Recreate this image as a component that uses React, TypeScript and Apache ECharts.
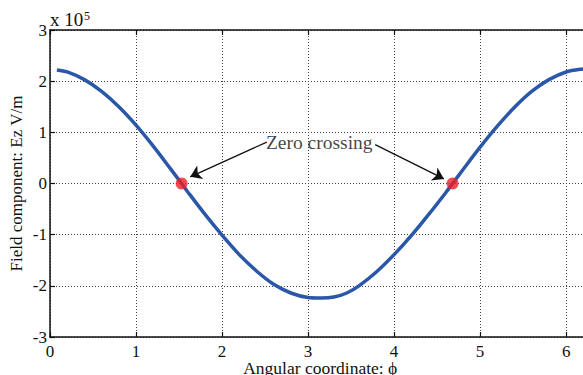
import React, { useEffect, useRef } from "react";
import * as echarts from "echarts";

// Angular coordinate (rad) and field component Ez (in units of 1e5 V/m)
const phiValues = [0.08, 0.2, 0.4, 0.6, 0.8, 1.0, 1.2, 1.4, 1.53, 1.6, 1.8, 2.0, 2.2, 2.4, 2.6, 2.8, 3.0, 3.15, 3.3, 3.45, 3.6, 3.8, 4.0, 4.2, 4.4, 4.6, 4.68, 4.8, 5.0, 5.2, 5.4, 5.6, 5.8, 6.0, 6.2, 6.2832];
const ezValues = [2.22, 2.18, 2.03, 1.8, 1.5, 1.14, 0.73, 0.29, 0, -0.16, -0.6, -1.01, -1.39, -1.71, -1.97, -2.14, -2.23, -2.24, -2.22, -2.14, -1.99, -1.72, -1.39, -1.02, -0.61, -0.18, 0, 0.27, 0.71, 1.12, 1.49, 1.8, 2.03, 2.18, 2.24, 2.25];

const zeroCrossPhi = [1.53, 4.68];
const zeroCrossEz = [0, 0];

// annotation: text anchor and arrow start/end (data coordinates)
const annotationText = "Zero crossing";
const annotationAt = [3.13, 0.8];
const arrowStarts = [[2.52, 0.81], [3.78, 0.76]];
const arrowEnds = [[1.63, 0.13], [4.58, 0.09]];

const xTicks = { min: 0, max: 2 * Math.PI, interval: 1 };
const yTicks = { min: -3, max: 3, interval: 1 };

const FONT = "'Liberation Serif', 'Times New Roman', serif";

export default function App() {
  const ref = useRef<HTMLDivElement>(null);
  useEffect(() => {
    if (!ref.current) return;
    const chart = echarts.init(ref.current, null, { renderer: "svg" });
    const gridLine = { show: true, lineStyle: { color: "#444", type: [1, 2], width: 1 } };
    const axisLine = { show: true, onZero: false, lineStyle: { color: "#111", width: 1.5 } };
    const axisTick = { show: true, inside: true, length: 5, lineStyle: { color: "#111", width: 1.2 } };
    chart.setOption({
      animation: false,
      backgroundColor: "#fff",
      grid: { left: 50, top: 30, bottom: 38, right: -7.5, containLabel: false, outerBoundsMode: "none" },
      xAxis: [
        {
          type: "value",
          position: "bottom",
          ...xTicks,
          axisLine,
          axisTick,
          splitLine: gridLine,
          axisLabel: { color: "#111", fontSize: 17, fontFamily: FONT, margin: 6, showMaxLabel: false },
          name: "Angular coordinate: \u03d5",
          nameLocation: "middle",
          nameGap: 22,
          nameMoveOverlap: false,
          nameTextStyle: { color: "#111", fontSize: 17.5, fontFamily: FONT, verticalAlign: "top" },
        },
        {
          type: "value",
          position: "top",
          ...xTicks,
          axisLine,
          axisTick,
          splitLine: { show: false },
          axisLabel: { show: false },
        },
      ],
      yAxis: [
        {
          type: "value",
          position: "left",
          ...yTicks,
          axisLine,
          axisTick,
          splitLine: gridLine,
          axisLabel: { color: "#111", fontSize: 17, fontFamily: FONT, margin: 3 },
          name: "Field component: Ez V/m",
          nameLocation: "middle",
          nameGap: 25,
          nameMoveOverlap: false,
          nameTextStyle: { color: "#111", fontSize: 17, fontFamily: FONT },
        },
        {
          type: "value",
          position: "right",
          ...yTicks,
          axisLine,
          axisTick,
          splitLine: { show: false },
          axisLabel: { show: false },
        },
      ],
      graphic: [
        { type: "text", x: 50, y: 29, style: { text: "x 10", verticalAlign: "bottom", textVerticalAlign: "bottom", font: `19px ${FONT}`, fill: "#111" } },
        { type: "text", x: 84, y: 22, style: { text: "5", verticalAlign: "bottom", textVerticalAlign: "bottom", font: `12px ${FONT}`, fill: "#111" } },
      ],
      series: [
        {
          type: "line",
          data: phiValues.map((p, i) => [p, ezValues[i]]),
          smooth: 0.3,
          showSymbol: false,
          lineStyle: { color: "#2a57a8", width: 3.5 },
          z: 3,
        },
        {
          type: "scatter",
          data: zeroCrossPhi.map((p, i) => [p, zeroCrossEz[i]]),
          symbolSize: 12,
          itemStyle: { color: "#ee1f26" },
          z: 5,
          markLine: {
            silent: true,
            animation: false,
            label: { show: false },
            lineStyle: { color: "#111", width: 1.3, type: "solid" },
            symbolSize: 11,
            data: arrowStarts.map((s, i) => [
              { coord: s, symbol: "none" },
              { coord: arrowEnds[i], symbol: "arrow" },
            ]),
          },
        },
        {
          type: "scatter",
          data: [annotationAt],
          symbolSize: 1,
          itemStyle: { color: "rgba(0,0,0,0)" },
          label: {
            show: true,
            position: "inside",
            formatter: annotationText,
            color: "#111",
            fontSize: 19.5,
            fontFamily: FONT,
          },
          z: 6,
        },
      ],
    });
    return () => chart.dispose();
  }, []);
  return <div ref={ref} style={{ width: 583, height: 375, position: "absolute", left: 0, top: 0 }} />;
}
